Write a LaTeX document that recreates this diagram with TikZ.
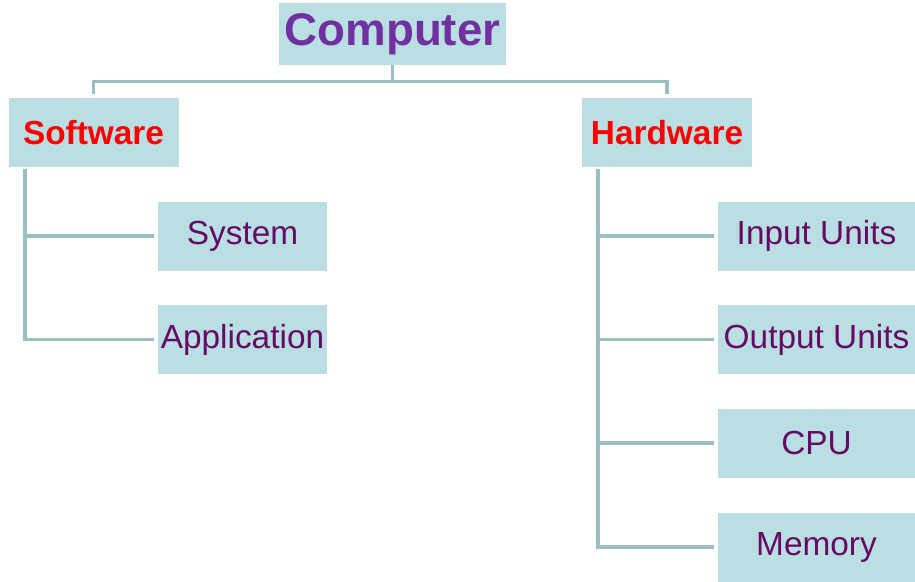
\documentclass[tikz,border=0pt]{standalone}
\usepackage{fontspec}
\setmainfont{Liberation Sans}
\definecolor{boxfill}{HTML}{BADFE3}
\definecolor{linkline}{HTML}{9BBEC2}
\definecolor{rootviolet}{HTML}{7030A0}
\definecolor{itemplum}{HTML}{660A66}
\begin{document}
\begin{tikzpicture}[
    x=0.02cm, y=-0.02cm,
    box/.style={rectangle, fill=boxfill, inner sep=0pt},
    root/.style={box, minimum width=227*0.02cm, minimum height=62*0.02cm,
        font=\fontsize{26}{30}\selectfont\bfseries, text=rootviolet},
    group/.style={box, minimum width=170*0.02cm, minimum height=69*0.02cm,
        font=\fontsize{19}{23}\selectfont\bfseries, text=red},
    item/.style={box, minimum width=169*0.02cm, minimum height=69*0.02cm,
        font=\fontsize{19}{23}\selectfont, text=itemplum},
    wide/.style={item, minimum width=197*0.02cm},
    link/.style={draw=linkline, line width=2.1pt, shorten >=2pt}
]
\useasboundingbox (0,0) rectangle (915,581);

% Top level and the two branches.
\node[root] (comp) at (392.5,34) {Computer};
\node[group] (soft) at (93.5,132.5) {Software};
\node[group] (hard) at (667,132.5) {Hardware};

\draw[link] (comp.south) -- ++(0,16) -| (soft.north);
\draw[link] (comp.south) -- ++(0,16) -| (hard.north);

% Software side.
\node[item] (sys) at (242.5,236) {System};
\node[item] (app) at (242.5,339.5) {Application};

\coordinate (softroot) at (25,169);
\draw[link] (softroot) |- (sys.west);
\draw[link] (softroot) |- (app.west);

% Hardware side.
\node[wide] (inp) at (816.5,236) {Input Units};
\node[wide] (outp) at (816.5,339.5) {Output Units};
\node[wide] (cpu) at (816.5,443) {CPU};
\node[wide] (mem) at (816.5,547) {Memory};

\coordinate (hardroot) at (598,169);
\foreach \unit in {inp,outp,cpu,mem} {
    \draw[link] (hardroot) |- (\unit.west);
}

\end{tikzpicture}
\end{document}
